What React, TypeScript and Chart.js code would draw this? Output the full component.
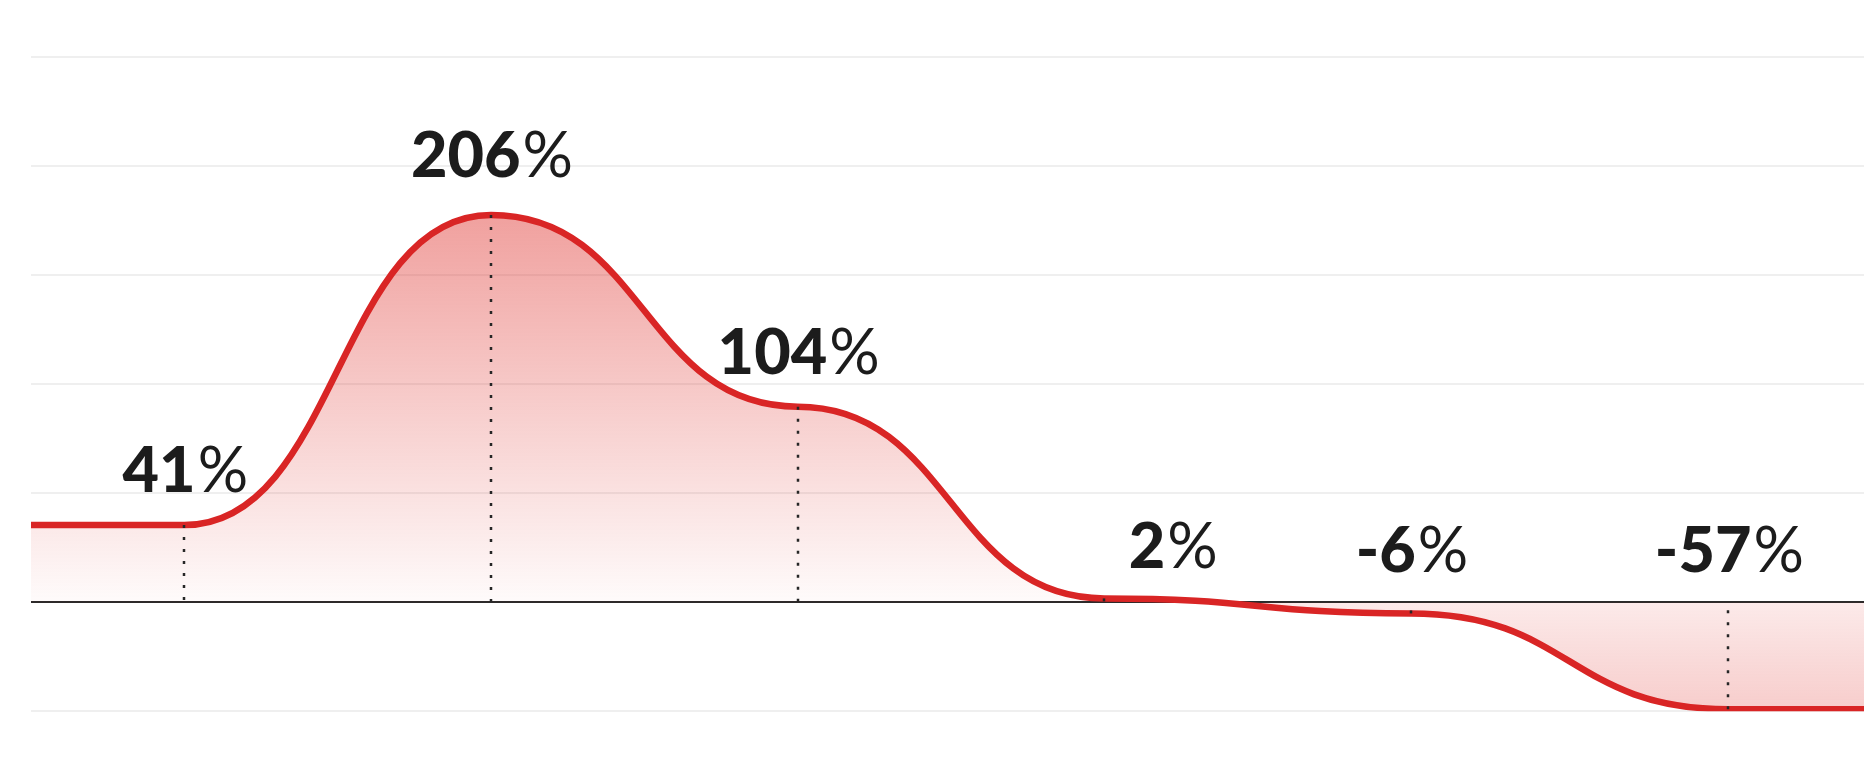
import React, { useEffect, useRef } from "react";
import { Chart, registerables } from "chart.js";

Chart.register(...registerables);

// ---- data ----
const CATEGORIES = ["2013", "2014", "2015", "2016", "2017", "2018"];
const VALUES = [41, 206, 104, 2, -6, -57];
const X_POSITIONS = [0, 1, 2, 3, 4, 5.035];
const Y_TICKS = [-58, 0, 58, 116, 174, 232, 290];
const VALUE_LABELS = ["41", "206", "104", "2", "-6", "-57"];

// ---- style ----
const RED = "rgb(217,37,37)";
const LABEL_SHIFT_X: Record<number, number> = { 3: 68 };
const LABEL_SHIFT_Y: Record<number, number> = { 1: -5, 3: 3, 4: 3, 5: 3 };
const FONT_FAMILY = "Lato, 'Noto Sans', sans-serif";

const bumpPlugin = {
  id: "bumpCurve",
  afterDatasetsUpdate(chart: any) {
    chart.getSortedVisibleDatasetMetas().forEach((meta: any) => {
      const pts = meta.data;
      for (let i = 0; i < pts.length; i++) {
        const p = pts[i];
        const prev = pts[i - 1];
        const next = pts[i + 1];
        p.cp1x = prev ? (prev.x + p.x) / 2 : p.x;
        p.cp1y = p.y;
        p.cp2x = next ? (p.x + next.x) / 2 : p.x;
        p.cp2y = p.y;
      }
      if (meta.dataset) meta.dataset._pointsUpdated = true;
    });
  },
};

const annotatePlugin = {
  id: "annotate",
  afterDatasetsDraw(chart: any) {
    const ctx = chart.ctx;
    const meta = chart.getDatasetMeta(0);
    const y0 = chart.scales.y.getPixelForValue(0);
    ctx.save();
    // dotted drop lines
    ctx.strokeStyle = "#262626";
    ctx.lineWidth = 2.5;
    ctx.setLineDash([3, 9]);
    for (let i = 0; i < VALUES.length; i++) {
      const pt = meta.data[i + 1];
      ctx.beginPath();
      ctx.moveTo(Math.round(pt.x), pt.y);
      ctx.lineTo(Math.round(pt.x), y0);
      ctx.stroke();
    }
    ctx.setLineDash([]);
    // value labels
    ctx.fillStyle = "#1c1c1c";
    ctx.textBaseline = "alphabetic";
    ctx.textAlign = "left";
    for (let i = 0; i < VALUES.length; i++) {
      const pt = meta.data[i + 1];
      const num = VALUE_LABELS[i];
      ctx.font = `900 63px ${FONT_FAMILY}`;
      const w1 = ctx.measureText(num).width;
      ctx.font = `400 63px ${FONT_FAMILY}`;
      const w2 = ctx.measureText("%").width;
      const cx = pt.x + (LABEL_SHIFT_X[i] || 0);
      const base = Math.min(pt.y, y0) - 33 + (LABEL_SHIFT_Y[i] || 0);
      const sx = cx - (w1 + w2) / 2;
      ctx.font = `900 63px ${FONT_FAMILY}`;
      ctx.fillText(num, sx, base);
      ctx.font = `400 63px ${FONT_FAMILY}`;
      ctx.fillText("%", sx + w1 + 2, base);
    }
    ctx.restore();
  },
};

export default function App() {
  const ref = useRef<HTMLCanvasElement | null>(null);

  useEffect(() => {
    if (!ref.current) return;
    const points = X_POSITIONS.map((x, i) => ({ x, y: VALUES[i] }));
    const data = [
      { x: -0.5, y: VALUES[0] },
      ...points,
      { x: 5.5, y: VALUES[VALUES.length - 1] },
    ];
    const chart = new Chart(ref.current, {
      type: "line",
      data: {
        datasets: [
          {
            data,
            borderColor: RED,
            borderWidth: 6.5,
            pointRadius: 0,
            pointHoverRadius: 0,
            tension: 0.4,
            fill: "origin",
            backgroundColor: (c: any) => {
              const ch = c.chart;
              const area = ch.chartArea;
              const ys = ch.scales?.y;
              if (!area || !ys) return "rgba(217,37,37,0.2)";
              const top = ys.getPixelForValue(Math.max(...VALUES));
              const bot = ys.getPixelForValue(Math.min(...VALUES));
              const zero = ys.getPixelForValue(0);
              const g = ch.ctx.createLinearGradient(0, top, 0, bot);
              const f = (zero - top) / (bot - top);
              g.addColorStop(0, "rgba(222,45,40,0.45)");
              g.addColorStop(f, "rgba(222,45,40,0.02)");
              g.addColorStop(Math.min(1, f + 0.002), "rgba(222,45,40,0.10)");
              g.addColorStop(1, "rgba(222,45,40,0.24)");
              return g;
            },
          },
        ],
      },
      options: {
        animation: false,
        responsive: false,
        layout: { padding: { left: 31, top: 57, right: 0, bottom: 0 } },
        plugins: { legend: { display: false }, tooltip: { enabled: false } },
        scales: {
          x: {
            type: "linear",
            min: -0.5,
            max: 5.5,
            afterBuildTicks: (axis: any) => {
              axis.ticks = X_POSITIONS.map((v) => ({ value: v }));
            },
            ticks: {
              autoSkip: false,
              maxRotation: 0,
              padding: 58,
              color: "#b5b5b5",
              font: { family: FONT_FAMILY, size: 64 },
              callback: (v: any) => {
                const idx = X_POSITIONS.indexOf(Number(v));
                return idx >= 0 ? CATEGORIES[idx] : "";
              },
            },
            grid: { display: false, drawTicks: false },
            border: { display: false },
          },
          y: {
            min: Y_TICKS[0],
            max: Y_TICKS[Y_TICKS.length - 1],
            afterBuildTicks: (axis: any) => {
              axis.ticks = Y_TICKS.map((v) => ({ value: v }));
            },
            ticks: { display: false },
            grid: {
              drawTicks: false,
              lineWidth: 2,
              color: (c: any) => (c.tick && c.tick.value === 0 ? "#2a2a2a" : "#efefef"),
            },
            border: { display: false },
          },
        },
      },
      plugins: [bumpPlugin, annotatePlugin],
    } as any);
    return () => chart.destroy();
  }, []);

  return (
    <div
      style={{
        position: "fixed",
        left: 0,
        top: 0,
        width: "100vw",
        height: "100vh",
        overflow: "hidden",
        background: "#fff",
      }}
    >
      <canvas
        ref={ref}
        width={1871}
        height={904}
        style={{ position: "absolute", left: 0, top: 0, display: "block" }}
      />
    </div>
  );
}
